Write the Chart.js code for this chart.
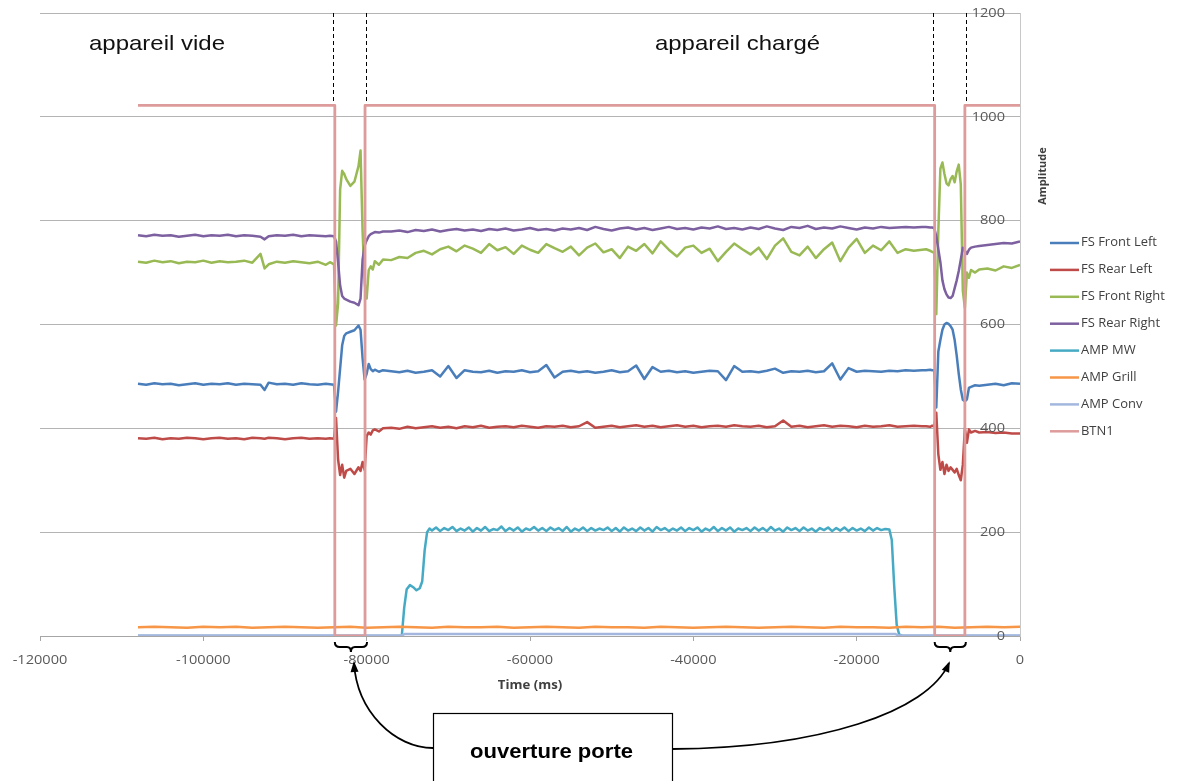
<!DOCTYPE html>
<html>
<head>
<meta charset="utf-8">
<script src="https://cdn.jsdelivr.net/npm/chart.js@4.4.1/dist/chart.umd.min.js"></script>
<style>
html, body { margin: 0; padding: 0; background: #fff; }
canvas { display: block; }
</style>
</head>
<body>
<canvas id="chart" width="1195" height="781" style="width:1195px;height:781px"></canvas>
<script>
// ---- data ----
const xTicks = [-120000, -100000, -80000, -60000, -40000, -20000, 0];
const yTicks = [0, 200, 400, 600, 800, 1000, 1200];

// shared time base of the four FS sensors (ms)
const timeMs = [
    -108000,-107000,-106000,-105000,-104000,-103000,-102000,-101000,-100000,-99000,-98000,-97000,-96000,-95000,-94000,-93000,
    -92500,-92000,-91000,-90000,-89000,-88000,-87000,-86000,-85000,
    -84500,-84000,-83750,-83500,-83250,-83000,-82750,-82500,-82000,-81500,-81000,-80750,-80500,-80250,-80000,-79750,-79500,-79250,-79000,-78500,-78000,
    -77000,-76000,-75000,-74000,-73000,-72000,-71000,-70000,-69000,-68000,-67000,-66000,-65000,-64000,-63000,-62000,-61000,-60000,-59000,-58000,-57000,-56000,
    -55000,-54000,-53000,-52000,-51000,-50000,-49000,-48000,-47000,-46000,-45000,-44000,-43000,-42000,-41000,-40000,-39000,-38000,-37000,-36000,-35000,-34000,
    -33000,-32000,-31000,-30000,-29000,-28000,-27000,-26000,-25000,-24000,-23000,-22000,-21000,-20000,-19000,-18000,-17000,-16000,-15000,-14000,-13000,-12000,
    -11500,-11000,-10750,-10500,-10250,-10000,-9750,-9500,-9250,-9000,-8750,-8500,-8250,-8000,-7750,-7500,-7250,-7000,-6750,-6500,-6250,-6000,-5500,-5000,
    -4000,-3000,-2000,-1000,0
];

const frontLeft = [
    486,484,487,485,486,483,485,487,484,486,485,487,484,486,485,484,
    474,488,485,486,484,487,485,484,486,
    485,484,432,470,515,560,578,583,586,589,598,590,535,494,505,524,514,510,513,509,512,
    510,508,511,507,509,512,500,520,497,512,509,508,511,507,510,509,512,508,510,522,498,509,
    511,508,510,507,509,512,508,510,521,495,518,509,511,508,510,507,509,511,510,493,520,509,
    510,508,511,515,507,510,509,511,508,510,525,494,516,509,511,510,509,511,510,512,511,512,
    512,513,512,512,440,548,570,590,600,603,601,597,590,570,540,505,475,455,452,456,478,480,483,482,
    484,486,483,487,486
];

const rearLeft = [
    381,380,382,379,381,380,382,381,379,381,382,380,381,379,382,381,
    380,382,381,379,381,382,380,381,380,
    381,380,420,340,310,330,305,318,322,312,325,318,335,320,385,392,388,396,398,394,400,
    401,399,403,400,402,404,401,403,400,404,402,405,401,403,404,402,405,403,401,404,403,405,
    402,404,412,401,403,405,402,404,406,403,405,402,404,406,403,405,402,404,405,403,406,404,
    403,405,402,404,415,403,405,402,404,406,403,405,404,402,405,403,404,406,403,404,405,404,
    404,403,405,404,430,350,320,335,312,330,318,325,320,315,322,310,300,330,400,372,398,392,395,392,
    393,391,392,390,390
];

const frontRight = [
    721,719,723,720,722,718,721,720,723,719,722,720,721,723,719,736,
    708,716,721,719,722,720,718,721,715,
    720,716,598,640,860,896,890,880,867,875,905,935,780,680,650,705,712,706,722,715,725,
    724,730,728,738,742,735,745,750,741,752,746,738,755,743,749,736,752,744,738,755,747,740,
    750,733,748,756,739,745,728,750,742,755,737,760,744,731,748,752,738,746,722,740,756,745,
    735,748,726,752,766,740,733,750,728,745,758,722,748,765,738,752,743,760,738,745,742,744,
    745,742,740,738,620,780,900,912,890,872,868,880,886,874,895,908,870,665,632,700,690,705,700,706,
    708,704,712,709,715
];

const rearRight = [
    772,770,773,771,772,769,771,773,770,772,771,773,770,772,771,769,
    764,770,772,771,773,770,772,771,770,
    771,770,760,720,675,655,650,648,644,642,637,650,725,752,762,770,774,776,778,777,779,
    779,781,778,782,780,783,779,782,784,781,783,780,784,782,785,781,783,786,782,784,781,785,
    783,786,782,788,784,781,785,787,783,786,782,785,788,784,786,783,787,785,789,784,786,783,
    787,784,789,785,782,788,786,790,784,787,785,789,786,783,787,785,788,786,787,788,787,788,
    788,787,787,786,770,745,720,685,668,658,652,651,655,670,685,703,725,748,742,736,744,748,750,751,
    753,755,757,756,760
];

// AMP MW has its own time base
const mwTime = [
    -108000,-75700,-75400,-75100,-74700,-74300,-73900,-73500,-73200,-72900,-72600,-72300,
    -72000,-71500,-71000,-70500,-70000,-69500,-69000,-68500,-68000,-67500,
    -67000,-66500,-66000,-65500,-65000,-64500,-64000,-63500,-63000,-62500,
    -62000,-61500,-61000,-60500,-60000,-59500,-59000,-58500,-58000,-57500,
    -57000,-56500,-56000,-55500,-55000,-54500,-54000,-53500,-53000,-52500,
    -52000,-51500,-51000,-50500,-50000,-49500,-49000,-48500,-48000,-47500,
    -47000,-46500,-46000,-45500,-45000,-44500,-44000,-43500,-43000,-42500,
    -42000,-41500,-41000,-40500,-40000,-39500,-39000,-38500,-38000,-37500,
    -37000,-36500,-36000,-35500,-35000,-34500,-34000,-33500,-33000,-32500,
    -32000,-31500,-31000,-30500,-30000,-29500,-29000,-28500,-28000,-27500,
    -27000,-26500,-26000,-25500,-25000,-24500,-24000,-23500,-23000,-22500,
    -22000,-21500,-21000,-20500,-20000,-19500,-19000,-18500,-18000,-17500,
    -17000,-16500,
    -16000,-15700,-15400,-15100,-14800,-14400,0
];
const mwValues = [
    0,0,55,90,98,94,88,92,105,165,200,207,
    203,209,202,208,204,210,202,207,203,209,
    201,208,203,210,202,206,204,211,202,208,
    203,209,201,207,204,210,203,208,202,209,
    204,208,202,210,201,207,203,209,202,208,
    203,207,204,209,202,208,201,209,203,207,
    202,209,203,208,201,210,204,208,202,207,
    203,209,202,208,204,209,201,207,203,210,
    202,208,203,209,201,207,204,208,202,209,
    203,208,202,210,203,207,201,209,204,208,
    202,209,203,207,201,208,204,209,202,208,
    203,209,202,208,203,207,202,209,203,208,
    204,206,
    205,185,95,22,3,0,0
];

const grillTime = [
    -108000,-106000,-104000,-102000,-100000,-98000,-96000,-94000,-92000,-90000,-88000,
    -86000,-84000,-82000,-80000,-78000,-76000,-74000,-72000,-70000,-68000,-66000,
    -64000,-62000,-60000,-58000,-56000,-54000,-52000,-50000,-48000,-46000,-44000,
    -42000,-40000,-38000,-36000,-34000,-32000,-30000,-28000,-26000,-24000,-22000,
    -20000,-18000,-16000,-14000,-12000,-10000,-8000,-6000,-4000,-2000,0
];
const grillValues = [
    17,18,17,16,18,17,18,16,17,18,17,
    16,17,18,16,17,18,17,16,18,17,17,
    18,16,17,18,17,16,18,17,17,16,18,
    17,16,17,18,17,16,17,18,17,16,18,
    17,17,16,18,17,18,16,17,18,17,18
];

const convTime = [-108000, -75700, -75300, -15300, -14900, 0];
const convValues = [1, 1, 4, 4, 1, 1];

// door button: high = closed, 0 = open
const btnTime = [-108000, -83900, -83900, -80200, -80200, -10450, -10450, -6750, -6750, 0];
const btnValues = [1022, 1022, 0, 0, 1022, 1022, 0, 0, 1022, 1022];

const seriesNames = ['FS Front Left', 'FS Rear Left', 'FS Front Right', 'FS Rear Right', 'AMP MW', 'AMP Grill', 'AMP Conv', 'BTN1'];

// ---- styles ----
const seriesColors = ['#4a7ebb', '#be4b48', '#98b954', '#7d60a0', '#46aac5', '#f79646', '#a3b7de', '#dd9c9b'];

function pairs(xs, ys) { return xs.map((t, i) => ({ x: t, y: ys[i] })); }

const seriesData = [
    pairs(timeMs, frontLeft),
    pairs(timeMs, rearLeft),
    pairs(timeMs, frontRight),
    pairs(timeMs, rearRight),
    pairs(mwTime, mwValues),
    pairs(grillTime, grillValues),
    pairs(convTime, convValues),
    pairs(btnTime, btnValues)
];

function drawText(ctx, str, x, y, font, color, align, sx) {
    ctx.save();
    ctx.font = font;
    ctx.fillStyle = color;
    ctx.textAlign = 'left';
    ctx.textBaseline = 'middle';
    const w = ctx.measureText(str).width * sx;
    const left = align === 'center' ? x - w / 2 : align === 'right' ? x - w : x;
    ctx.translate(left, y);
    ctx.scale(sx, 1);
    ctx.fillText(str, 0, 0);
    ctx.restore();
}

function fitText(ctx, str, left, baseline, width, font, color) {
    ctx.save();
    ctx.font = font;
    ctx.fillStyle = color;
    ctx.textAlign = 'left';
    ctx.textBaseline = 'alphabetic';
    const sx = width / ctx.measureText(str).width;
    ctx.translate(left, baseline);
    ctx.scale(sx, 1);
    ctx.fillText(str, 0, 0);
    ctx.restore();
}

function brace(ctx, x0, x1, top) {
    const m = (x0 + x1) / 2, h = 5;
    ctx.beginPath();
    ctx.moveTo(x0, top);
    ctx.quadraticCurveTo(x0, top + h, x0 + 5, top + h);
    ctx.lineTo(m - 4, top + h);
    ctx.quadraticCurveTo(m, top + h, m, top + 2 * h);
    ctx.quadraticCurveTo(m, top + h, m + 4, top + h);
    ctx.lineTo(x1 - 5, top + h);
    ctx.quadraticCurveTo(x1, top + h, x1, top);
    ctx.stroke();
}

function curvedArrow(ctx, p0, c1, c2, p1) {
    ctx.beginPath();
    ctx.moveTo(p0[0], p0[1]);
    ctx.bezierCurveTo(c1[0], c1[1], c2[0], c2[1], p1[0], p1[1]);
    ctx.stroke();
    const ang = Math.atan2(p1[1] - c2[1], p1[0] - c2[0]);
    const len = 9, half = 4;
    const bx = p1[0] - Math.cos(ang) * len, by = p1[1] - Math.sin(ang) * len;
    ctx.beginPath();
    ctx.moveTo(p1[0] + Math.cos(ang) * 2, p1[1] + Math.sin(ang) * 2);
    ctx.lineTo(bx + Math.sin(ang) * half, by - Math.cos(ang) * half);
    ctx.lineTo(bx - Math.sin(ang) * half, by + Math.cos(ang) * half);
    ctx.closePath();
    ctx.fill();
}

const overlay = {
    id: 'overlay',
    afterDraw(chart) {
        const { ctx, chartArea: a, scales: { x, y } } = chart;

        // y tick labels, inside the plot next to the right axis
        yTicks.forEach(v => drawText(ctx, String(v), a.right - 15, y.getPixelForValue(v), '13px "Open Sans"', '#595959', 'right', 1.12));
        // x tick labels
        xTicks.forEach(v => drawText(ctx, String(v), x.getPixelForValue(v), a.bottom + 24, '13px "Open Sans"', '#595959', 'center', 1.12));

        // axis titles
        drawText(ctx, 'Time (ms)', (a.left + a.right) / 2, 686, 'bold 12px "Open Sans"', '#404040', 'center', 1.1);
        ctx.save();
        ctx.translate(1043, 176);
        ctx.rotate(-Math.PI / 2);
        ctx.font = 'bold 11px "Open Sans"';
        ctx.fillStyle = '#404040';
        ctx.textAlign = 'center';
        ctx.textBaseline = 'middle';
        ctx.fillText('Amplitude', 0, 0);
        ctx.restore();

        // legend
        seriesNames.forEach((name, i) => {
            const yy = 243 + i * 26.9;
            ctx.save();
            ctx.strokeStyle = seriesColors[i];
            ctx.lineWidth = 2.5;
            ctx.beginPath();
            ctx.moveTo(1050, yy);
            ctx.lineTo(1079, yy);
            ctx.stroke();
            ctx.restore();
            drawText(ctx, name, 1081, yy, '12px "Open Sans"', '#404040', 'left', 1.08);
        });

        // dashed markers of the door openings
        const topBtn = y.getPixelForValue(btnValues[0]);
        ctx.save();
        ctx.strokeStyle = '#000';
        ctx.lineWidth = 1;
        ctx.setLineDash([4, 3]);
        [btnTime[1] - 200, btnTime[3] + 150, btnTime[5] - 250, btnTime[7] + 100].forEach(t => {
            const px = Math.round(x.getPixelForValue(t)) + 0.5;
            ctx.beginPath();
            ctx.moveTo(px, a.top);
            ctx.lineTo(px, topBtn - 2);
            ctx.stroke();
        });
        ctx.restore();

        // phase labels
        fitText(ctx, 'appareil vide', 89, 50, 136, '21px "Liberation Sans"', '#111');
        fitText(ctx, 'appareil chargé', 655, 50, 165, '21px "Liberation Sans"', '#111');

        // braces under the axis
        ctx.save();
        ctx.strokeStyle = '#000';
        ctx.fillStyle = '#000';
        ctx.lineWidth = 2;
        brace(ctx, x.getPixelForValue(btnTime[1]), x.getPixelForValue(btnTime[3]) + 2, a.bottom + 6);
        brace(ctx, x.getPixelForValue(btnTime[5]), x.getPixelForValue(btnTime[7]) + 1, a.bottom + 6);

        // arrows from the box
        ctx.lineWidth = 1.8;
        curvedArrow(ctx, [433, 748], [395, 748], [357, 712], [354, 663]);
        curvedArrow(ctx, [672, 749], [820, 748], [928, 712], [949, 663]);

        // box
        ctx.lineWidth = 1.2;
        ctx.strokeRect(433.5, 713.5, 239, 80);
        ctx.restore();
        fitText(ctx, 'ouverture porte', 470, 758, 163, 'bold 20px "Liberation Sans"', '#000');
    }
};

new Chart(document.getElementById('chart'), {
    type: 'line',
    data: {
        datasets: seriesNames.map((name, i) => ({
            label: name,
            data: seriesData[i],
            borderColor: seriesColors[i],
            backgroundColor: seriesColors[i],
            borderWidth: i === 7 ? 2.8 : 2.5,
            pointRadius: 0,
            tension: 0,
            fill: false,
            borderJoinStyle: 'round',
            order: 8 - i
        }))
    },
    options: {
        responsive: false,
        animation: false,
        events: [],
        layout: { padding: { left: 40, right: 175, top: 13, bottom: 115 } },
        plugins: { legend: { display: false }, tooltip: { enabled: false } },
        scales: {
            x: {
                type: 'linear', min: -120000, max: 0,
                ticks: { stepSize: 20000, display: false },
                grid: { drawOnChartArea: false, drawTicks: true, tickLength: 5, color: '#a6a6a6' },
                border: { color: '#a6a6a6' },
                afterFit: s => { s.height = 30; }
            },
            y: {
                position: 'right', min: 0, max: 1200,
                ticks: { stepSize: 200, display: false },
                grid: { color: '#b4b4b4', drawTicks: false },
                border: { color: '#c8c8c8' },
                afterFit: s => { s.width = 0; }
            }
        }
    },
    plugins: [overlay]
});
</script>
</body>
</html>
